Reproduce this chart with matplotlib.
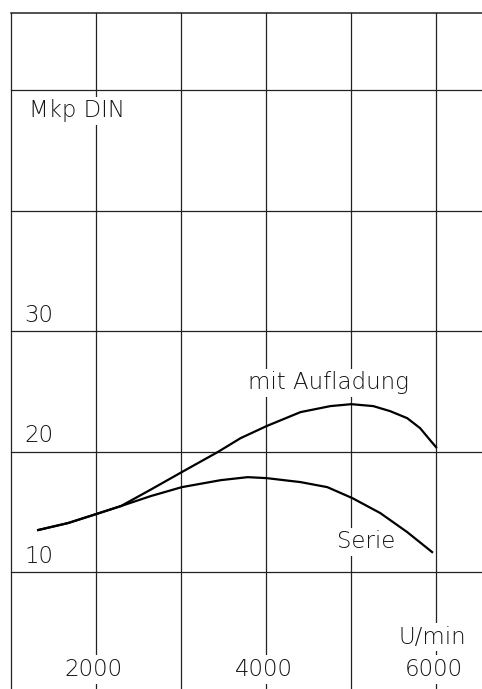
import numpy as np
import matplotlib.pyplot as plt

# speed axis (U/min) and torque axis (Mkp DIN)
rpm_grid = [1000, 2000, 3000, 4000, 5000, 6000]
rpm_labels = [2000, 4000, 6000]
torque_grid = [10, 20, 30, 40, 50]
torque_labels = [10, 20, 30]

# Serie curve
rpm_serie = [1320, 1672, 2000, 2293, 2645, 3009, 3466, 3783, 4006, 4405, 4721, 5015, 5343, 5660, 5953]
mkp_serie = [13.49, 14.07, 14.81, 15.48, 16.31, 17.05, 17.63, 17.88, 17.8, 17.47, 17.05, 16.14, 14.9, 13.32, 11.66]

# mit Aufladung curve
rpm_auf = [1320, 1672, 2000, 2293, 2645, 3009, 3431, 3701, 4006, 4405, 4757, 5003, 5261, 5460, 5660, 5812, 5930, 6000]
mkp_auf = [13.49, 14.07, 14.81, 15.48, 16.85, 18.3, 19.96, 21.12, 22.12, 23.28, 23.78, 23.94, 23.78, 23.36, 22.78, 21.95, 20.95, 20.37]

x_left, x_right = 871, 6540
y_bottom, y_top = 0.29, 57.5
frame_top = 56.4

ink = '#222222'
font = dict(family='DejaVu Sans', fontsize=16.5, fontweight='light', color='#151515')
white = dict(facecolor='white', edgecolor='none', pad=2)

fig = plt.figure(figsize=(4.82, 6.89), dpi=100)
ax = fig.add_axes([0, 0, 1, 1])
ax.set_xlim(x_left, x_right)
ax.set_ylim(y_bottom, y_top)
ax.axis('off')

# grid and frame
for r in rpm_grid:
    ax.plot([r, r], [y_bottom, frame_top], color=ink, lw=0.9, zorder=1)
for t in torque_grid:
    ax.plot([rpm_grid[0], x_right], [t, t], color=ink, lw=0.9, zorder=1)
ax.plot([rpm_grid[0], x_right], [frame_top, frame_top], color=ink, lw=1.1, zorder=1)

# curves
ax.plot(rpm_auf, mkp_auf, color='black', lw=1.6, zorder=3, solid_joinstyle='round')
ax.plot(rpm_serie, mkp_serie, color='black', lw=1.6, zorder=3, solid_joinstyle='round')

# labels
for t in torque_labels:
    ax.text(1160, t + 1.3, str(t), ha='left', va='center', bbox=white, zorder=2, **font)
for r in rpm_labels:
    ax.text(r - 25, 1.9, str(r), ha='center', va='center', bbox=white, zorder=2, **font)
ax.text(5955, 4.6, 'U/min', ha='center', va='center', bbox=white, zorder=2, **font)
ax.text(1214, 48.3, 'Mkp DIN', ha='left', va='center', bbox=white, zorder=2, **font)
ax.text(4733, 25.7, 'mit Aufladung', ha='center', va='center', bbox=white, zorder=2, **font)
ax.text(5179, 12.5, 'Serie', ha='center', va='center', bbox=white, zorder=2, **font)

fig.savefig('out.png', dpi=100)
